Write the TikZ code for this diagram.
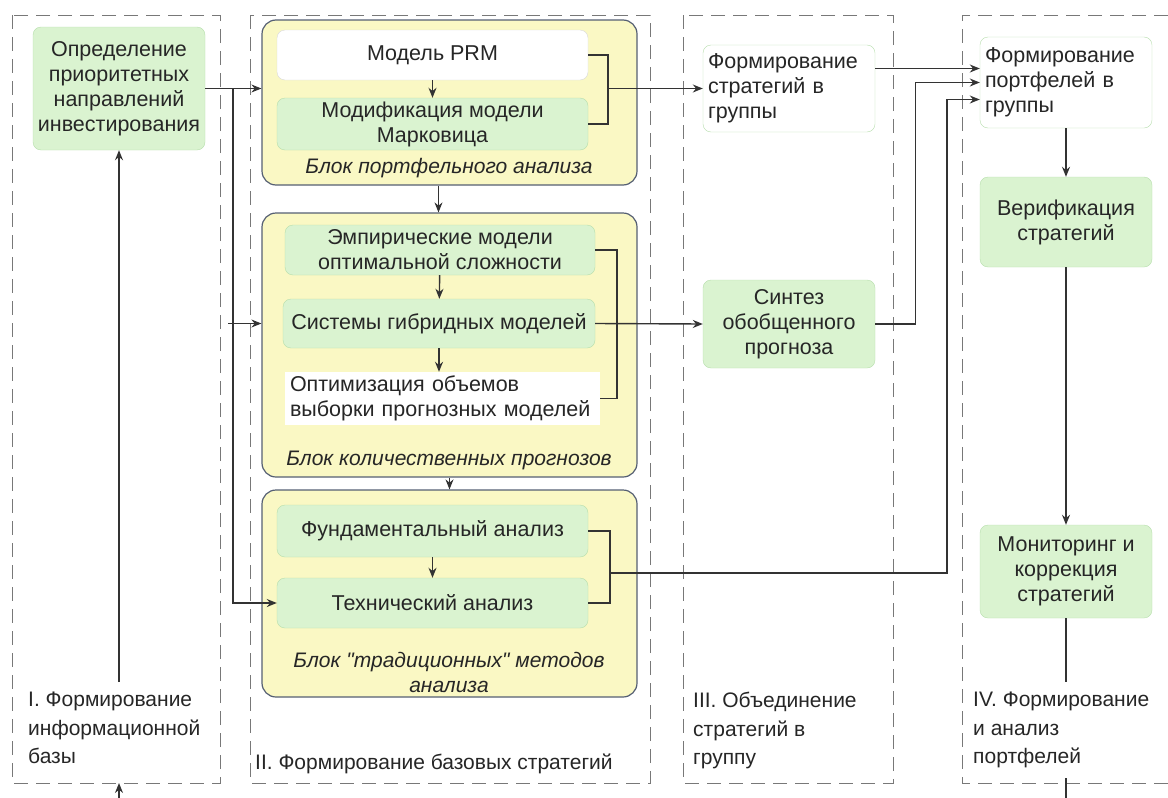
\documentclass[tikz,border=0pt]{standalone}
\usepackage{fontspec}
\setmainfont{Liberation Sans}
\usetikzlibrary{arrows.meta}
\definecolor{boxgreen}{RGB}{218,243,208}
\definecolor{edgegreen}{RGB}{182,222,172}
\definecolor{blockyellow}{RGB}{250,248,196}
\definecolor{blockedge}{RGB}{85,95,115}
\definecolor{framegray}{RGB}{120,120,120}
\begin{document}
\begin{tikzpicture}[x=1pt, y=-1pt, >={Stealth[length=10pt,width=8pt]},
    every node/.style={font=\fontsize{21.5}{25}\selectfont, text=black!85},
    greenbox/.style={draw=edgegreen, fill=boxgreen, rounded corners=8pt, align=center, inner sep=2pt},
    whitebox/.style={draw=edgegreen, fill=white, rounded corners=8pt, inner sep=2pt},
    block/.style={draw=blockedge, fill=blockyellow, line width=1.2pt, rounded corners=14pt},
    blockname/.style={font=\fontsize{21}{25}\selectfont\itshape, align=center},
    colframe/.style={draw=framegray, line width=1pt, dash pattern=on 14pt off 8pt},
    collabel/.style={anchor=north west, align=left, inner sep=0pt, font=\fontsize{21}{28.5}\selectfont},
    link/.style={line width=1.4pt, black!80}]
    \useasboundingbox (0,0) rectangle (1168,798);

    % Spalten
    \draw[colframe] (12,15) rectangle (220,783);
    \draw[colframe] (250,15) rectangle (650,783);
    \draw[colframe] (683,15) rectangle (893,783);
    \draw[colframe] (1168,15) -- (962,15) -- (962,783) -- (1168,783);

    % I
    \node[greenbox, minimum width=172pt, minimum height=123pt] (prio) at (119,88.5)
        {Определение\\приоритетных\\направлений\\инвестирования};
    \node[collabel] (lab1) at (28,692) {I. Формирование\\информационной\\базы};

    % II: Bloecke
    \node[block, minimum width=375pt, minimum height=165pt] (blk1) at (449.5,102.5) {};
    \node[block, minimum width=375pt, minimum height=264pt] (blk2) at (449.5,345) {};
    \node[block, minimum width=375pt, minimum height=207pt] (blk3) at (449.5,593.5) {};

    \node[whitebox, draw=black!15, minimum width=311pt, minimum height=50pt] (prm) at (432.5,55) {Модель PRM};
    \node[greenbox, minimum width=311pt, minimum height=52pt] (mod) at (432.5,124) {Модификация модели\\Марковица};
    \node[blockname] (cap1) at (449,168) {Блок портфельного анализа};

    \node[greenbox, minimum width=310pt, minimum height=50pt] (emp) at (440,250) {Эмпирические модели\\оптимальной сложности};
    \node[greenbox, minimum width=312pt, minimum height=49pt] (hyb) at (439,323.5) {Системы гибридных моделей};
    \node[fill=white, minimum width=315pt, minimum height=53pt, align=left, text width=305pt, inner sep=3pt] (opt) at (442.5,398.5)
        {Оптимизация объемов\\выборки прогнозных моделей};
    \node[blockname] (cap2) at (449,460) {Блок количественных прогнозов};

    \node[greenbox, minimum width=311pt, minimum height=52pt] (fund) at (432.5,531) {Фундаментальный анализ};
    \node[greenbox, minimum width=311pt, minimum height=50pt] (tech) at (432.5,603) {Технический анализ};
    \node[blockname] (cap3) at (449,672) {Блок \textquotedbl традиционных\textquotedbl{} методов\\анализа};

    \node[collabel] (lab2) at (255,754) {II. Формирование базовых стратегий};

    % III
    \node[whitebox, minimum width=172pt, minimum height=87pt, align=left, text width=162pt] (strat) at (789,88.5)
        {Формирование\\стратегий в\\группы};
    \node[greenbox, minimum width=172pt, minimum height=88pt] (synth) at (789,324) {Синтез\\обобщенного\\прогноза};
    \node[collabel] (lab3) at (693,692) {III. Объединение\\стратегий в\\группу};

    % IV
    \node[whitebox, minimum width=172pt, minimum height=91pt, align=left, text width=162pt] (port) at (1066,82.5)
        {Формирование\\портфелей в\\группы};
    \node[greenbox, minimum width=172pt, minimum height=90pt] (verif) at (1066,222) {Верификация\\стратегий};
    \node[greenbox, minimum width=172pt, minimum height=93pt] (monit) at (1066,571.5) {Мониторинг и\\коррекция\\стратегий};
    \node[collabel] (lab4) at (973,692) {IV. Формирование\\и анализ\\портфелей};

    % Verbindungen I -> II
    \coordinate (split) at (233,88.5);
    \draw[link] (prio.east) -- (split);
    \draw[link, ->] (split) -- (split -| blk1.west);
    \draw[link, ->] (split) |- (tech.west);
    \draw[link, ->] ([xshift=-5pt]split |- hyb) -- (blk2.west |- hyb);
    \coordinate (in1) at (119,798);
    \draw[link, ->] (in1) -- ++(0,-15);
    \draw[link, ->] ([yshift=10pt]lab1.north -| prio.south) -- (prio.south);

    % innerhalb der Bloecke
    \draw[link, ->] (prm) -- (mod);
    \draw[link, ->] ([xshift=-11pt]blk1.south) -- ([xshift=-11pt]blk2.north);
    \draw[link, ->] (emp) -- (hyb);
    \draw[link, ->] (hyb.south) -- (hyb.south |- opt.north);
    \draw[link, ->] (blk2.south) -- (blk3.north);
    \draw[link, ->] (fund) -- (tech);

    % Klammern
    \coordinate (br1) at (608,88.5);
    \draw[link] (prm.east) -| (br1) |- (mod.east);
    \draw[link, ->] (br1) -- (strat.west);
    \coordinate (br2) at (617,323.5);
    \draw[link] (emp.east) -| (br2) |- (opt.east);
    \draw[link, ->] (hyb.east) -- (synth.west);
    \coordinate (br3) at (610,573);
    \draw[link] (fund.east) -| (br3) |- (tech.east);

    % III -> IV
    \draw[link, ->] ([yshift=20pt]strat.east) -- ([yshift=20pt]strat.east -| port.west);
    \draw[link, ->] (synth.east) -- ++(40,0) |- (port.west);
    \draw[link, ->] (br3) -- ++(337,0) |- ([yshift=-17pt]port.west);

    % IV
    \draw[link, ->] (port) -- (verif);
    \draw[link, ->] (verif) -- (monit);
    \draw[link] (monit.south) -- ([yshift=10pt]monit.south |- lab4.north);
    \coordinate (out4) at (1066,798);
    \draw[link] (out4) -- ++(0,-20);
\end{tikzpicture}
\end{document}
